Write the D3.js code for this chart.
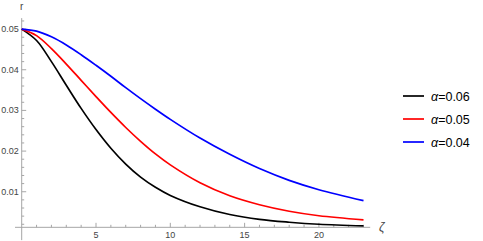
<!DOCTYPE html>
<html>
<head>
<meta charset="utf-8">
<script src="https://cdn.jsdelivr.net/npm/d3@7"></script>
<style>
  body { margin: 0; background: #fff; }
  svg { display: block; font-family: "Liberation Sans", Arial, sans-serif; }
</style>
</head>
<body>
<div id="chart"></div>
<script>
const WIDTH = 483, HEIGHT = 241;

// values
const zeta = [0, 1, 2, 3, 4, 5, 6, 7, 8, 9, 10, 12, 14, 16, 18, 20, 23];
const rA06 = [0.0500, 0.0472, 0.0420, 0.0362, 0.0305, 0.0253, 0.0207, 0.0168, 0.0136, 0.0111, 0.0091, 0.0063, 0.0044, 0.0032, 0.0025, 0.0020, 0.0016];
const rA05 = [0.0500, 0.0484, 0.0452, 0.0414, 0.0374, 0.0334, 0.0295, 0.0258, 0.0224, 0.0193, 0.0166, 0.0122, 0.0090, 0.0068, 0.0052, 0.0041, 0.0031];
const rA04 = [0.0500, 0.0495, 0.0481, 0.0461, 0.0437, 0.0411, 0.0384, 0.0356, 0.0329, 0.0303, 0.0278, 0.0232, 0.0192, 0.0157, 0.0128, 0.0105, 0.0078];
const seriesNames = ["0.06", "0.05", "0.04"];
const seriesColors = ["#000000", "#ff0000", "#0000ff"];
const xTicks = [5, 10, 15, 20];
const yTicks = [0.01, 0.02, 0.03, 0.04, 0.05];

const svg = d3.select('#chart').append('svg')
  .attr('width', WIDTH)
  .attr('height', HEIGHT);

const x = d3.scaleLinear().domain([0, 23]).range([21.7, 363.5]);
const y = d3.scaleLinear().domain([0, 0.05]).range([232.4, 29.1]);

const axisColor = "#a6a6a6";
const labelColor = "#444";
const xAxisY = y(0.00125);

// axes lines
svg.append('line')
  .attr('x1', x(-0.45)).attr('x2', x(23.45))
  .attr('y1', xAxisY).attr('y2', xAxisY)
  .attr('stroke', axisColor).attr('stroke-width', 1);
svg.append('line')
  .attr('x1', x(0)).attr('x2', x(0))
  .attr('y1', y(-0.0019)).attr('y2', y(0.0527))
  .attr('stroke', axisColor).attr('stroke-width', 1);

// x ticks (minor every 1, major every 5)
d3.range(1, 24).forEach(v => {
  const major = v % 5 === 0;
  svg.append('line')
    .attr('x1', x(v)).attr('x2', x(v))
    .attr('y1', xAxisY).attr('y2', xAxisY - (major ? 4.5 : 2.5))
    .attr('stroke', axisColor);
});
svg.selectAll('.xlab').data(xTicks).enter().append('text')
  .attr('x', d => x(d)).attr('y', xAxisY + 11)
  .attr('text-anchor', 'middle')
  .attr('font-size', 9).attr('fill', labelColor)
  .text(d => d);

// y ticks (minor every 0.002)
d3.range(1, 27).map(i => i * 0.002).forEach(v => {
  const major = Math.abs(v * 100 - Math.round(v * 100)) < 1e-6;
  if (v < 0.0013) return;
  svg.append('line')
    .attr('x1', x(0)).attr('x2', x(0) + (major ? 4.5 : 2.5))
    .attr('y1', y(v)).attr('y2', y(v))
    .attr('stroke', axisColor);
});
svg.selectAll('.ylab').data(yTicks).enter().append('text')
  .attr('x', x(0) - 3).attr('y', d => y(d) + 3)
  .attr('text-anchor', 'end')
  .attr('font-size', 9).attr('fill', labelColor)
  .text(d => d.toFixed(2));

// axis labels
svg.append('text')
  .attr('x', x(0)).attr('y', 10)
  .attr('text-anchor', 'middle')
  .attr('font-size', 10).attr('fill', labelColor)
  .text('r');
svg.append('text')
  .attr('x', 379).attr('y', xAxisY + 4)
  .attr('font-size', 12).attr('font-style', 'italic').attr('fill', labelColor)
  .text('ζ');

// curves
const line = d3.line()
  .x(d => x(d[0]))
  .y(d => y(d[1]))
  .curve(d3.curveCatmullRom.alpha(0.5));

[rA06, rA05, rA04].forEach((vals, i) => {
  svg.append('path')
    .datum(zeta.map((z, j) => [z, vals[j]]))
    .attr('fill', 'none')
    .attr('stroke', seriesColors[i])
    .attr('stroke-width', 1.7)
    .attr('d', line);
});

// legend
const legend = svg.append('g').attr('transform', 'translate(403, 96)');
seriesNames.forEach((name, i) => {
  const row = legend.append('g').attr('transform', `translate(0, ${i * 23})`);
  row.append('line')
    .attr('x1', 0).attr('x2', 21)
    .attr('stroke', seriesColors[i]).attr('stroke-width', 1.7);
  const t = row.append('text')
    .attr('x', 28).attr('y', 4.5)
    .attr('font-size', 12.5).attr('fill', '#000');
  t.append('tspan').attr('font-style', 'italic').text('α');
  t.append('tspan').text('=' + name);
});
</script>
</body>
</html>
